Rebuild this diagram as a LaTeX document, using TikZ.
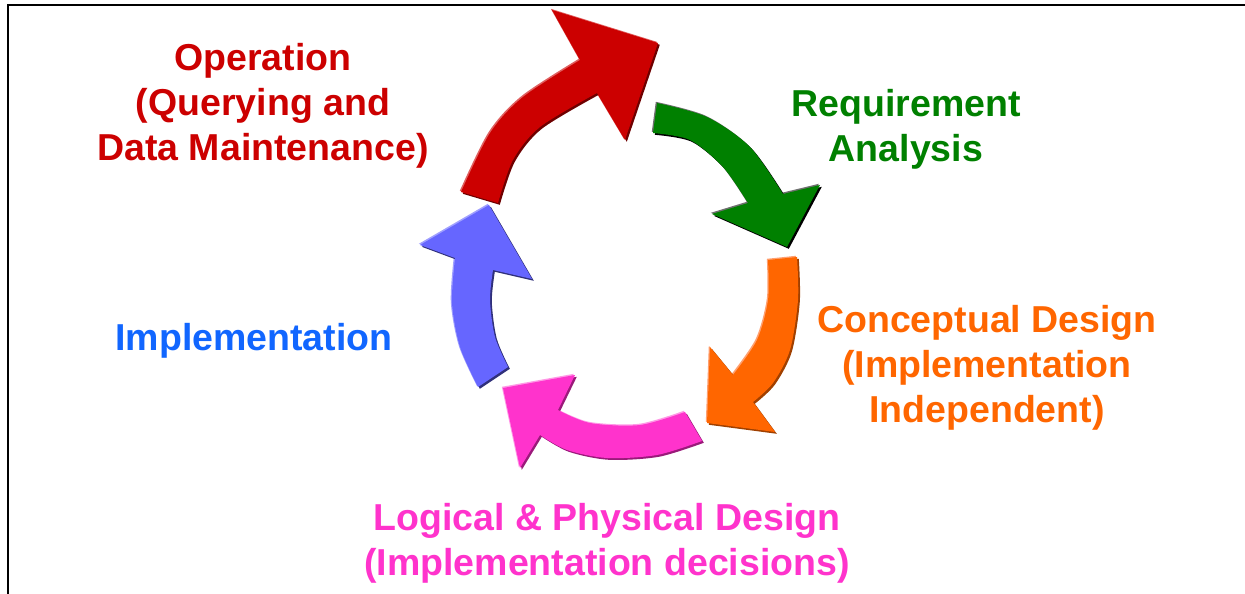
\documentclass[tikz,border=0pt]{standalone}
\usepackage{fontspec}
\setmainfont{Liberation Sans}
\definecolor{cRed}{HTML}{CC0000}
\definecolor{cRedS}{HTML}{6E0000}
\definecolor{cRedL}{HTML}{E06060}
\definecolor{cGreen}{HTML}{008000}
\definecolor{cGreenS}{HTML}{000000}
\definecolor{cGreenL}{HTML}{707070}
\definecolor{cOrange}{HTML}{FF6600}
\definecolor{cOrangeS}{HTML}{A04000}
\definecolor{cOrangeL}{HTML}{FFA070}
\definecolor{cPink}{HTML}{FF33CC}
\definecolor{cPinkS}{HTML}{9A1A7A}
\definecolor{cPinkL}{HTML}{FF99E6}
\definecolor{cBlue}{HTML}{6666FF}
\definecolor{cBlueS}{HTML}{30307A}
\definecolor{cBlueL}{HTML}{A0A0FF}
\definecolor{tBlue}{HTML}{1166FF}
\newcommand\cyclearrow[4]{%
  \fill[#3, shift={(-1.2,-1.2)}] #4;
  \fill[#2, shift={(1.8,1.8)}] #4;
  \fill[#1] #4;}
\begin{document}
\begin{tikzpicture}[x=0.6pt, y=-0.6pt,
  lbl/.style={align=center, inner sep=0pt,
    font=\fontsize{22.5}{27}\selectfont\bfseries}]
\useasboundingbox (0,0) rectangle (1245,594);
% frame
\draw[line width=1.2pt] (8,594) -- (8,5.5) -- (1245,5.5);
% red arrow
\cyclearrow{cRed}{cRedS}{cRedL}{plot[smooth] coordinates{(461,192) (490,133) (523,97) (580,60)} -- (552,10) -- (658,43) -- (625,140) -- plot[smooth] coordinates{(597,93) (540,127) (513,160) (498,203)} -- cycle}
% green arrow
\cyclearrow{cGreen}{cGreenS}{cGreenL}{plot[smooth] coordinates{(657,103) (707,117) (750,147) (783,194)} -- (820,185) -- (787,247) -- (712,214) -- plot[smooth] coordinates{(748,203) (723,167) (690,140) (653,133)} -- cycle}
% orange arrow
\cyclearrow{cOrange}{cOrangeS}{cOrangeL}{plot[smooth] coordinates{(797,257) (798,300) (790,350) (773,383) (753,402)} -- (775,432) -- (707,423) -- (710,347) -- plot[smooth] coordinates{(733,375) (757,340) (768,300) (768,260)} -- cycle}
% pink arrow
\cyclearrow{cPink}{cPinkS}{cPinkL}{plot[smooth] coordinates{(702,441) (657,455) (607,458) (567,450) (540,435)} -- (520,468) -- (503,388) -- (575,375) -- plot[smooth] coordinates{(558,410) (590,423) (640,425) (685,412)} -- cycle}
% blue arrow
\cyclearrow{cBlue}{cBlueS}{cBlueL}{plot[smooth] coordinates{(478,387) (460,347) (452,303) (455,258)} -- (420,245) -- (489,205) -- (532,279) -- plot[smooth] coordinates{(493,270) (490,300) (495,337) (508,367)} -- cycle}
% labels
\node[lbl, text=cRed] (op) at (263,106) {Operation\\(Querying and\\Data Maintenance)};
\node[lbl, text=cGreen] (req) at (906,129) {Requirement\\Analysis};
\node[lbl, text=cOrange] (con) at (987,368) {Conceptual Design\\(Implementation\\Independent)};
\node[lbl, text=tBlue] (imp) at (254,341) {Implementation};
\node[lbl, text=cPink] (log) at (607,543) {Logical \& Physical Design\\(Implementation decisions)};
\end{tikzpicture}
\end{document}
